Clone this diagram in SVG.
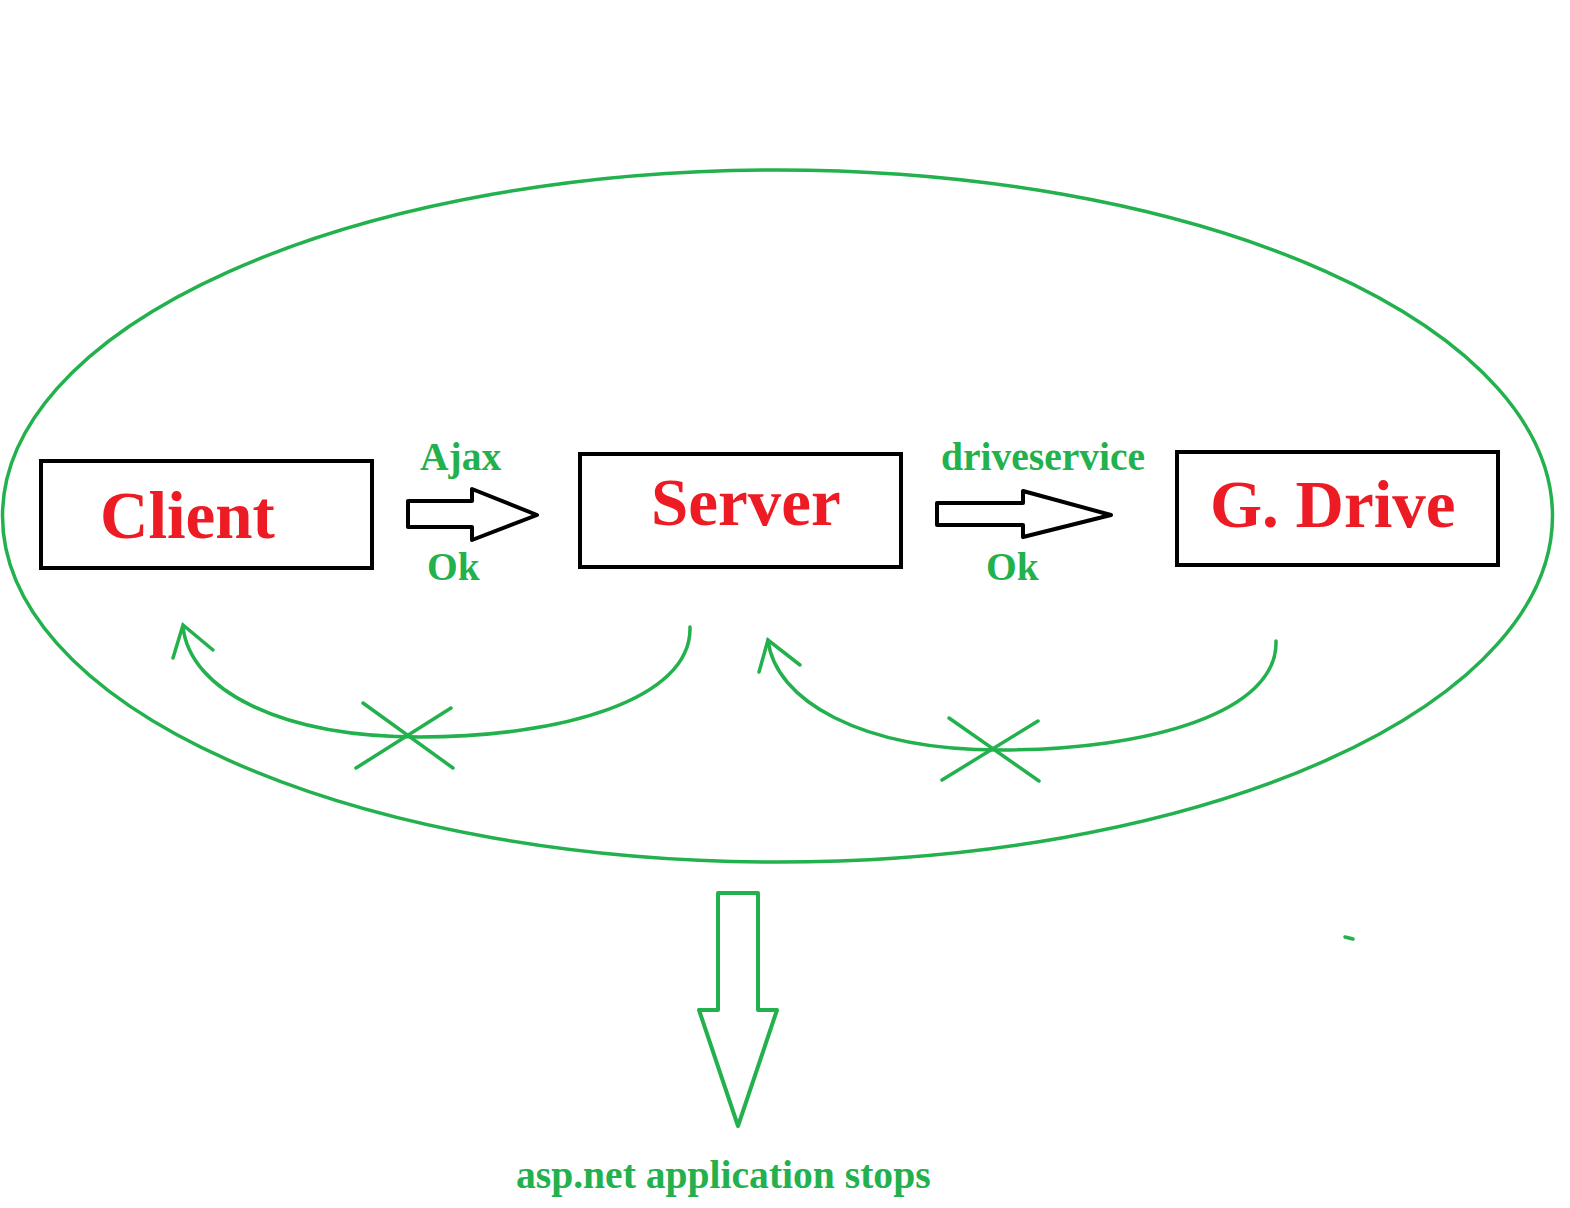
<svg xmlns="http://www.w3.org/2000/svg" width="1570" height="1208" viewBox="0 0 1570 1208">
<style>
.box{fill:#fff;stroke:#000;stroke-width:4}
.blk{fill:#fff;stroke:#000;stroke-width:4;stroke-linejoin:round}
.g{fill:none;stroke:#22B14C;stroke-width:3.5;stroke-linecap:round}
.red{font-family:"Liberation Serif",serif;font-weight:bold;font-size:67px;fill:#ED1C24}
.lbl{font-family:"Liberation Serif",serif;font-weight:bold;font-size:39.5px;fill:#22B14C}
</style>
<rect width="1570" height="1208" fill="#fff"/>
<ellipse cx="777.5" cy="516" rx="775" ry="346" fill="none" stroke="#22B14C" stroke-width="3.5"/>
<g id="client">
<rect class="box" x="41" y="461" width="331" height="107"/>
<text class="red" x="100" y="538">Client</text>
</g>
<g id="server">
<rect class="box" x="580" y="454" width="321" height="113"/>
<text class="red" x="651" y="525">Server</text>
</g>
<g id="gdrive">
<rect class="box" x="1177" y="452" width="321" height="113"/>
<text class="red" x="1210" y="527">G. Drive</text>
</g>
<g id="connectors">
<path class="blk" d="M408 501 H472 V489 L537 515 L472 540 V527 H408 Z"/>
<path class="blk" d="M937 503 H1023 V491 L1111 515 L1023 537 V525 H937 Z"/>
<text class="lbl" x="420" y="470">Ajax</text>
<text class="lbl" x="427" y="580">Ok</text>
<text class="lbl" x="941" y="470">driveservice</text>
<text class="lbl" x="986" y="580">Ok</text>
<path class="g" d="M690 627 C692 700 560 737 420 737 C280 737 190 690 183 627"/>
<path class="g" d="M173 658 L183 625 L213 650"/>
<path class="g" d="M363 703 L453 768 M356 768 L451 708"/>
<path class="g" d="M1276 641 C1278 712 1150 750 1000 750 C860 750 775 700 768 640"/>
<path class="g" d="M759 672 L768 640 L800 665"/>
<path class="g" d="M949 718 L1039 781 M942 780 L1038 721"/>
<path d="M718 893 H758 V1010 H777 L738 1126 L699 1010 H718 Z" fill="#fff" stroke="#22B14C" stroke-width="4" stroke-linejoin="round"/>
<path class="g" d="M1345 937 L1353 939"/>
</g>
<text class="lbl" x="516" y="1188" style="font-size:39.6px">asp.net application stops</text>
</svg>
